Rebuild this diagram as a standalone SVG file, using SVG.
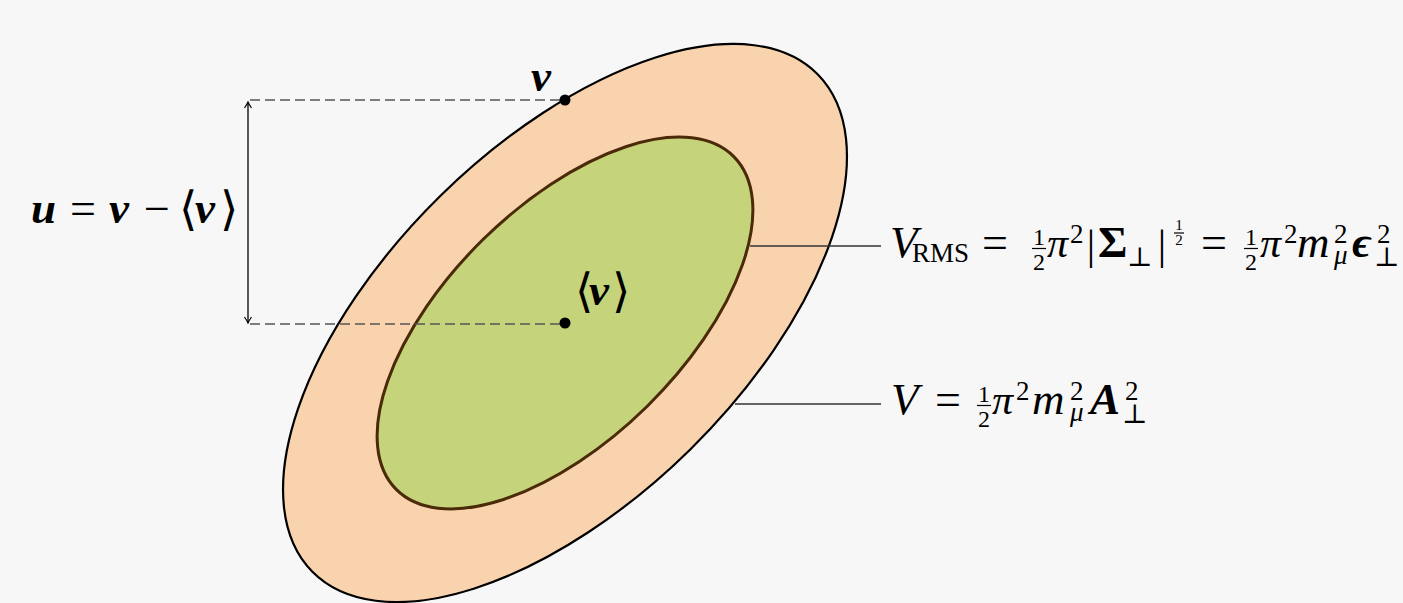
<svg xmlns="http://www.w3.org/2000/svg" width="1403" height="603" viewBox="0 0 1403 603">
  <style>
    .m { font-family: "Liberation Serif", "DejaVu Serif", serif; font-size: 42px; fill: #000; }
    .i { font-style: italic; }
    .b { font-weight: bold; }
    .w { font-size: 45px; }
    .e { font-size: 46px; }
    .s { font-size: 27px; }
    .f { font-size: 24px; }
    .ff { font-size: 15px; }
    .c { text-anchor: middle; }
    .br { font-family: "DejaVu Serif", "DejaVu Sans", serif; font-size: 47px; fill: #000; }
    .dash { stroke: #555; stroke-width: 1.5; stroke-dasharray: 10 5; fill: none; }
    .lead { stroke: #333; stroke-width: 1.3; fill: none; }
    .bar { stroke: #000; stroke-width: 1.2; }
  </style>
  <defs>
    <marker id="tip" viewBox="-8 -5 10 10" refX="0" refY="0" markerWidth="10" markerHeight="10" markerUnits="userSpaceOnUse" orient="auto-start-reverse">
      <path d="M -6 -3.5 Q -2 -0.8 0 0 Q -2 0.8 -6 3.5" fill="none" stroke="#000" stroke-width="1.2"/>
    </marker>
  </defs>
  <rect x="0" y="0" width="1403" height="603" fill="#F7F7F7"/>

  <g id="outer-region">
    <ellipse cx="0" cy="0" rx="354.5" ry="178" transform="translate(565 323) rotate(-44.5)" fill="#F9D3AE" stroke="#000" stroke-width="2.2"/>
  </g>
  <g id="inner-region">
    <ellipse cx="0" cy="0" rx="237" ry="117" transform="translate(565 323) rotate(-44.5)" fill="#C5D47A" stroke="#4B2A09" stroke-width="3"/>
  </g>

  <g id="connectors">
    <line class="dash" x1="250" y1="100" x2="565" y2="100"/>
    <line class="dash" x1="250" y1="324" x2="565" y2="324"/>
    <line x1="248" y1="102" x2="248" y2="323" stroke="#000" stroke-width="1.3" marker-start="url(#tip)" marker-end="url(#tip)"/>
    <line class="lead" x1="750" y1="246" x2="881" y2="246"/>
    <line class="lead" x1="735" y1="404" x2="881" y2="404"/>
  </g>

  <g id="point-v">
    <circle cx="565" cy="100" r="5.5" fill="#000"/>
    <text class="m i b w" x="531" y="91">v</text>
  </g>
  <g id="point-mean">
    <circle cx="565" cy="323" r="5.5" fill="#000"/>
    <text class="br" x="575" y="307">⟨</text>
    <text class="m i b w" x="589" y="305">v</text>
    <text class="br" x="612" y="307">⟩</text>
  </g>

  <g id="label-u">
    <text class="m i b w" x="31" y="223">u</text>
    <text class="m e c" x="83" y="224">=</text>
    <text class="m i b w" x="109" y="223">v</text>
    <text class="m e c" x="157" y="224">−</text>
    <text class="br" x="179" y="225">⟨</text>
    <text class="m i b w" x="195" y="223">v</text>
    <text class="br" x="220" y="225">⟩</text>
  </g>

  <g id="label-vrms">
    <text class="m i w" x="890" y="257">V</text>
    <text class="m s" x="912" y="262">RMS</text>
    <text class="m e c" x="995" y="258">=</text>
    <text class="m f c" x="1039" y="245">1</text>
    <line class="bar" x1="1032" y1="248.5" x2="1046" y2="248.5"/>
    <text class="m f c" x="1039" y="270">2</text>
    <text class="m i" x="1047" y="257">π</text>
    <text class="m s" x="1070" y="243">2</text>
    <text class="m c" x="1091" y="259">|</text>
    <text class="m b w" x="1098" y="257">Σ</text>
    <text class="m s" x="1127" y="266">⊥</text>
    <text class="m c" x="1162" y="259">|</text>
    <text class="m ff c" x="1179" y="230">1</text>
    <line class="bar" x1="1174" y1="233" x2="1184" y2="233" stroke-width="1"/>
    <text class="m ff c" x="1179" y="245">2</text>
    <text class="m e c" x="1214" y="258">=</text>
    <text class="m f c" x="1251" y="245">1</text>
    <line class="bar" x1="1244" y1="248.5" x2="1258" y2="248.5"/>
    <text class="m f c" x="1251" y="270">2</text>
    <text class="m i" x="1260" y="257">π</text>
    <text class="m s" x="1284" y="243">2</text>
    <text class="m i w" x="1297" y="257">m</text>
    <text class="m s" x="1334" y="243">2</text>
    <text class="m s i" x="1334" y="264">μ</text>
    <text class="m i b w" x="1352" y="257">ϵ</text>
    <text class="m s" x="1377" y="243">2</text>
    <text class="m s" x="1374" y="266">⊥</text>
  </g>

  <g id="label-v">
    <text class="m i w" x="891" y="414">V</text>
    <text class="m e c" x="948" y="415">=</text>
    <text class="m f c" x="984" y="402">1</text>
    <line class="bar" x1="977" y1="405.5" x2="991" y2="405.5"/>
    <text class="m f c" x="984" y="427">2</text>
    <text class="m i" x="992" y="414">π</text>
    <text class="m s" x="1016" y="400">2</text>
    <text class="m i w" x="1032" y="414">m</text>
    <text class="m s" x="1070" y="400">2</text>
    <text class="m s i" x="1070" y="421">μ</text>
    <text class="m i b w" x="1090" y="414">A</text>
    <text class="m s" x="1125" y="400">2</text>
    <text class="m s" x="1122" y="423">⊥</text>
  </g>
</svg>
